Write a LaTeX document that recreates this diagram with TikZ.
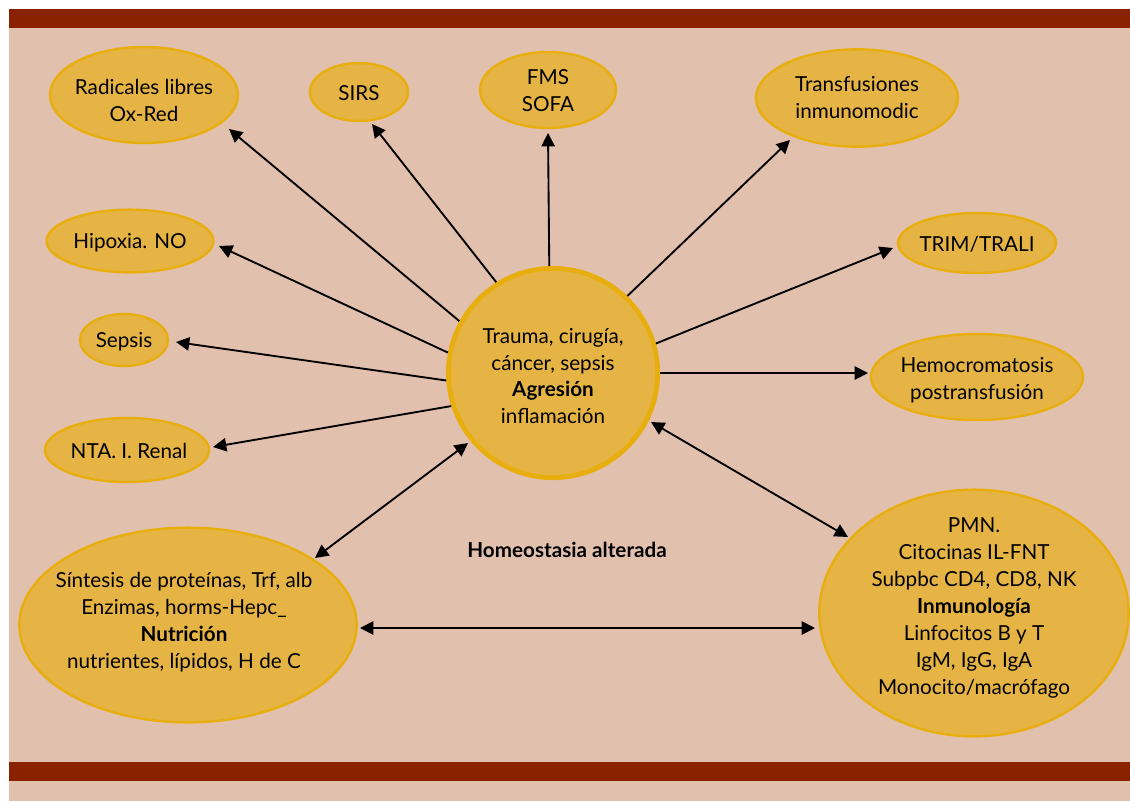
\documentclass[tikz,border=0pt]{standalone}
\usepackage{fontspec}
\setmainfont{Lato}
\usetikzlibrary{shapes.geometric,arrows.meta}
\definecolor{bar}{RGB}{138,34,0}
\definecolor{bg}{RGB}{226,192,174}
\definecolor{ovfill}{RGB}{230,180,68}
\definecolor{ovline}{RGB}{232,174,14}
\tikzset{
  oval/.style={ellipse, draw=ovline, fill=ovfill, line width=1.8pt, inner sep=0pt},
  txt/.style={align=center, font=\fontsize{15.5pt}{20.2pt}\selectfont, text=black},
  arr/.style={line width=1.4pt, -{Triangle[length=10pt,width=10pt]}},
  darr/.style={line width=1.4pt, {Triangle[length=10pt,width=10pt]}-{Triangle[length=10pt,width=10pt]}}
}
\begin{document}
\begin{tikzpicture}[x=0.75pt,y=-0.75pt]
\useasboundingbox (0,0) rectangle (1130,801);
\fill[white] (0,0) rectangle (1130,801);
\fill[bg] (9,9) rectangle (1130,801);
\fill[bar] (9,9) rectangle (1130,28);
\fill[bar] (9,762) rectangle (1130,781);

% outer ovals
\node[oval, minimum width=141pt, minimum height=72pt] (rad) at (144,95) {};
\node[txt] (radt) at (144,100) {Radicales libres\\Ox-Red};
\node[oval, minimum width=73.5pt, minimum height=43.5pt] (sirs) at (359,92) {};
\node[txt] (sirst) at (359,93) {SIRS};
\node[oval, minimum width=102pt, minimum height=57pt] (fms) at (548,90) {};
\node[txt] (fmst) at (548,91) {FMS\\SOFA};
\node[oval, minimum width=151.5pt, minimum height=73pt] (trans) at (857,98) {};
\node[txt] (transt) at (trans) {Transfusiones\\inmunomodic};
\node[oval, minimum width=125pt, minimum height=47pt] (hip) at (130,241) {};
\node[txt] (hipt) at (130,243) {Hipoxia. NO};
\node[oval, minimum width=118.5pt, minimum height=45pt] (trim) at (977,243) {};
\node[txt] (trimt) at (977,244) {TRIM/TRALI};
\node[oval, minimum width=66pt, minimum height=39pt] (sep) at (124,340) {};
\node[txt] (sept) at (124,342) {Sepsis};
\node[oval, minimum width=159pt, minimum height=64.5pt] (hemo) at (977,377) {};
\node[txt] (hemot) at (977,380) {Hemocromatosis\\postransfusión};
\node[oval, minimum width=123pt, minimum height=48pt] (nta) at (127,450) {};
\node[txt] (ntat) at (129,451) {NTA. I. Renal};

% central circle
\node[circle, draw=ovline, fill=ovfill, line width=3.6pt, minimum size=157pt, inner sep=0pt] (main) at (553,373) {};
\node[txt] (maint) at (553,376) {Trauma, cirugía,\\cáncer, sepsis\\\textbf{Agresión}\\inflamación};

% big ovals
\node[oval, minimum width=253pt, minimum height=146pt] (nut) at (188,625) {};
\node[txt] (nutt) at (184,622) {Síntesis de proteínas, Trf, alb\\Enzimas, horms-Hepc\_\\\textbf{Nutrición}\\nutrientes, lípidos, H de C};
\node[oval, minimum width=232pt, minimum height=185pt] (inm) at (974,613) {};
\node[txt] (inmt) at (974,608) {PMN.\\Citocinas IL-FNT\\Subpbc CD4, CD8, NK\\\textbf{Inmunología}\\Linfocitos B y T\\IgM, IgG, IgA\\Monocito/macrófago};

\node[txt] (homeo) at (567,550) {\textbf{Homeostasia alterada}};

% arrow end points
\coordinate (tRad) at (229,129);
\coordinate (tSirs) at (372,124);
\coordinate (tFms) at (548,133);
\coordinate (tTrans) at (790,140);
\coordinate (tTrim) at (893,248);
\coordinate (tHemo) at (868,373);
\coordinate (tHip) at (219,246);
\coordinate (tSep) at (176,342);
\coordinate (tNta) at (213,447);
\coordinate (tNutA) at (315,558);
\coordinate (tNutB) at (468,443);
\coordinate (tInmA) at (651,422);
\coordinate (tInmB) at (848,537);
\coordinate (tH1) at (360,628);
\coordinate (tH2) at (815,628);

\draw[arr] (main.151.8) -- (tRad);
\draw[arr] (main.122.8) -- (tSirs);
\draw[arr] (main.92.6) -- (tFms);
\draw[arr] (main.46.9) -- (tTrans);
\draw[arr] (main.16.6) -- (tTrim);
\draw[arr] (main.0) -- (tHemo);
\draw[arr] (main.169.7) -- (tHip);
\draw[arr] (main.184.3) -- (tSep);
\draw[arr] (main.198.6) -- (tNta);
\draw[darr] (tNutA) -- (tNutB);
\draw[darr] (tInmA) -- (tInmB);
\draw[darr] (tH1) -- (tH2);
\end{tikzpicture}
\end{document}
